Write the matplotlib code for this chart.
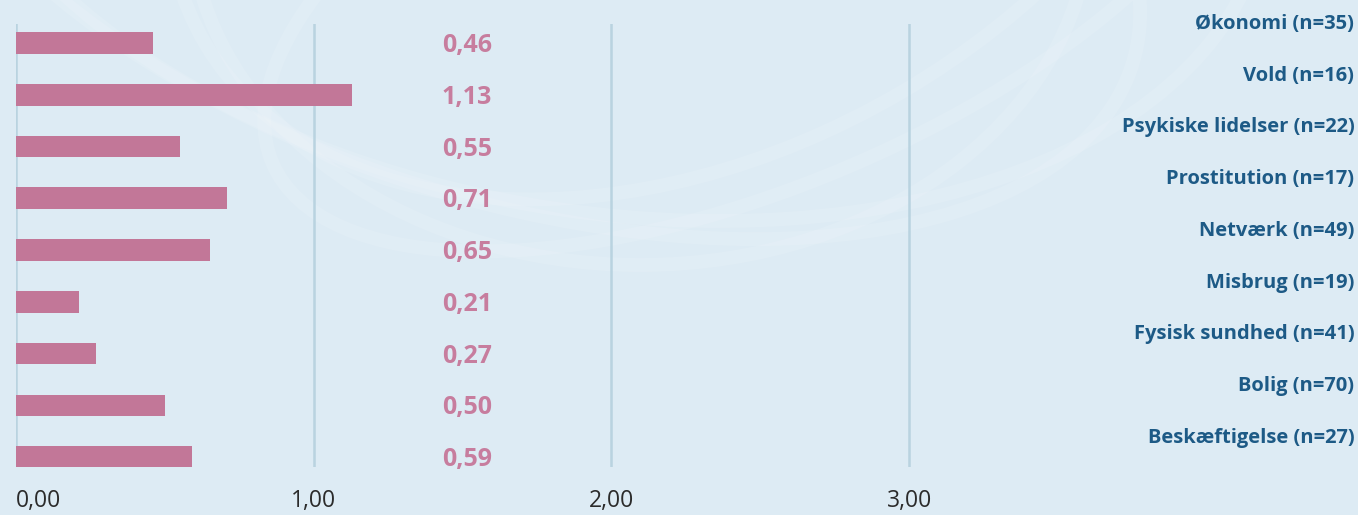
import matplotlib.pyplot as plt
from matplotlib.patches import Ellipse

# gennemsnitlig score pr. problemområde
kategorier = ['Økonomi (n=35)', 'Vold (n=16)', 'Psykiske lidelser (n=22)',
              'Prostitution (n=17)', 'Netværk (n=49)', 'Misbrug (n=19)',
              'Fysisk sundhed (n=41)', 'Bolig (n=70)', 'Beskæftigelse (n=27)']
vaerdier = [0.46, 1.13, 0.55, 0.71, 0.65, 0.21, 0.27, 0.50, 0.59]
x_ticks = [0, 1, 2, 3]

bg = '#ddebf4'
bar_col = '#c27798'
label_col = '#c77d9e'
cat_col = '#1d5a86'

plt.rcParams['font.family'] = ['Open Sans', 'DejaVu Sans']

W, H = 1358, 515
fig = plt.figure(figsize=(W / 100, H / 100), dpi=100, facecolor=bg)

# svagt vandmærke i baggrunden (buer)
for cx, cy, w, h, ang in [(640, 600, 900, 700, 0), (520, 640, 1100, 760, 20),
                          (760, 560, 760, 640, -25), (600, 700, 1300, 820, 10),
                          (700, 760, 1000, 900, -10)]:
    fig.patches.append(Ellipse((cx / W, cy / H), w / W, h / H, angle=ang,
                               transform=fig.transFigure, fill=False,
                               edgecolor='white', alpha=0.1, lw=10, zorder=-5))

ax = fig.add_axes([16 / W, 1 - 467 / H, (4.5 * 297.7) / W, (467 - 24) / H])
ax.set_facecolor('none')
ax.set_zorder(2)

y = list(range(len(kategorier)))
ax.barh(y, vaerdier, height=0.42, color=bar_col, zorder=3)

ax.set_xlim(0, 4.5)
ax.set_ylim(8.19, -0.367)

for s in ax.spines.values():
    s.set_visible(False)

ax.set_yticks([])
ax.set_xticks(x_ticks)
ax.set_xticklabels([('%.2f' % t).replace('.', ',') for t in x_ticks])
ax.tick_params(axis='x', length=0, pad=16, labelsize=16.5, labelcolor='#2b2b2b')
ax.get_xticklabels()[0].set_horizontalalignment('left')
ax.grid(axis='x', color='#b9d3e0', linewidth=1.8, zorder=1)
ax.set_axisbelow(True)

# værdietiketter og kategorinavne
for i, v in enumerate(vaerdier):
    ax.text(1.6, i + 0.05, ('%.2f' % v).replace('.', ','), ha='right', va='center',
            color=label_col, fontsize=18, fontweight='bold')
    ax.text(0.999, i - 0.37, kategorier[i], ha='right', va='center',
            transform=ax.get_yaxis_transform(), color=cat_col,
            fontsize=14.5, fontweight='bold')

fig.savefig('out.png', dpi=100, facecolor=bg)
